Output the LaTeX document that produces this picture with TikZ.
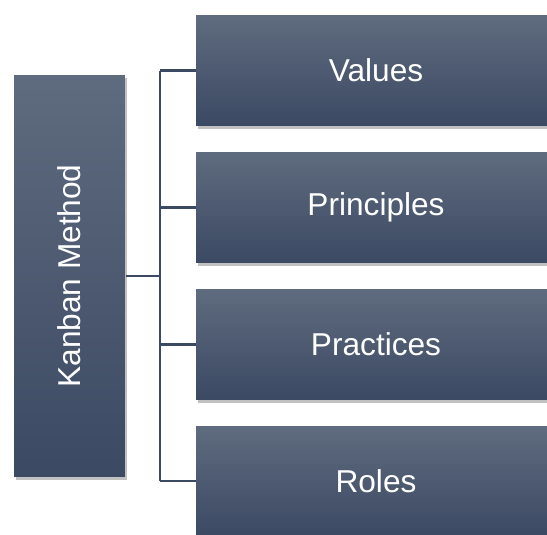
\documentclass[tikz,border=0pt]{standalone}
\usepackage{fontspec}
\setmainfont{Liberation Sans}
\usetikzlibrary{shadows}

\definecolor{boxtop}{HTML}{5F6B7E}
\definecolor{boxbot}{HTML}{3B4963}

\begin{document}
\begin{tikzpicture}[x=0.02cm,y=-0.02cm,node distance=2.74cm,
                    semithick]
  \tikzstyle{block}=[rectangle,inner sep=0pt,top color=boxtop,bottom color=boxbot,
    text=white,font=\fontsize{18}{22}\selectfont,
    drop shadow={shadow xshift=1.2pt,shadow yshift=-1.8pt,opacity=0.35,fill=black!70}]
  \tikzstyle{item}=[block,minimum width=7.2cm,minimum height=2.2cm]
  \tikzstyle{link}=[draw=boxbot,line width=1.2pt]

  \useasboundingbox (0,0) rectangle (547,534);

  \node[block,minimum width=2.22cm,minimum height=8.04cm] (K) at (69.5,276) {\rotatebox{90}{Kanban Method}};
  \coordinate (hub) at (160,276);

  \node[item] (V) at (376,70.5)      {Values};
  \node[item] (P) [below of=V]        {Principles};
  \node[item] (C) [below of=P]        {Practices};
  \node[item] (R) [below of=C]        {Roles};

  \draw[link] (K.east) -- (hub);
  \draw[link] (hub |- V.west) -- (hub |- R.west);
  \foreach \b in {V,P,C,R}
    \draw[link] (hub |- \b.west) -- (\b.west);
\end{tikzpicture}
\end{document}
